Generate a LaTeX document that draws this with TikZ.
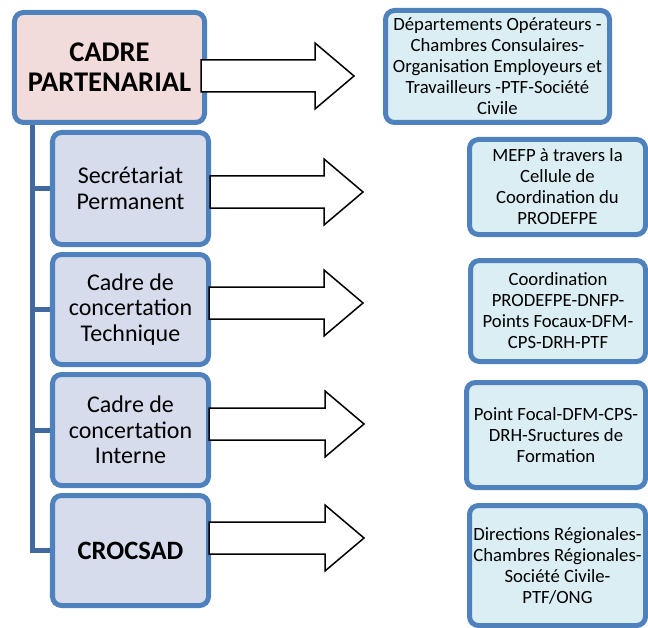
\documentclass[tikz,border=0pt]{standalone}
\usepackage{fontspec}
\setmainfont{Carlito}
\usetikzlibrary{backgrounds}
\definecolor{bordblue}{HTML}{4F81BD}
\definecolor{spineblue}{HTML}{41699E}
\definecolor{pinkfill}{HTML}{F2DCDB}
\definecolor{lavfill}{HTML}{D6DCEB}
\definecolor{cyanfill}{HTML}{DAEEF3}
\tikzset{
 box/.style={draw=bordblue, line width=5bp, rounded corners=9bp, align=center, inner sep=0pt},
 topbox/.style={box, fill=pinkfill, minimum width=190bp, minimum height=110bp, font=\fontsize{28.5bp}{30bp}\selectfont\bfseries},
 leftbox/.style={box, fill=lavfill, minimum width=156bp, font=\fontsize{24bp}{25.7bp}\selectfont},
 rightbox/.style={box, fill=cyanfill, font=\fontsize{18.7bp}{21bp}\selectfont},
 barrow/.style={draw=black, line width=1.5bp, fill=white, line join=miter},
 spine/.style={draw=spineblue, line width=5bp},
}
\newcommand\bkarrow[3]{\draw[barrow] (#1,#2-16) -- (#3-39,#2-16) -- (#3-39,#2-33) -- (#3,#2) -- (#3-39,#2+33) -- (#3-39,#2+16) -- (#1,#2+16) -- cycle;}
\begin{document}
\begin{tikzpicture}[x=1bp,y=-1bp]
\useasboundingbox (0,0) rectangle (648,628);
% left column
\node[topbox] (top) at (109.5,67.5) {CADRE\\PARTENARIAL};
\node[leftbox, minimum height=112bp] (sec) at (130.5,188.5) {Secrétariat\\Permanent};
\node[leftbox, minimum height=110bp] (tech) at (130.5,309.5) {Cadre de\\concertation\\Technique};
\node[leftbox, minimum height=111bp] (int) at (130.5,430) {Cadre de\\concertation\\Interne};
\node[leftbox, minimum height=110bp, font=\fontsize{26.5bp}{29bp}\selectfont\bfseries] (croc) at (130.5,550.5) {CROCSAD};
% right column
\node[rightbox, minimum width=224bp, minimum height=112bp] (r0) at (497.5,66.5) {Départements Opérateurs -\\Chambres Consulaires-\\Organisation Employeurs et\\Travailleurs -PTF-Société\\Civile};
\node[rightbox, minimum width=176bp, minimum height=95bp] (r1) at (557.5,187) {MEFP à travers la\\Cellule de\\Coordination du\\PRODEFPE};
\node[rightbox, minimum width=175bp, minimum height=101bp] (r2) at (558,311) {Coordination\\PRODEFPE-DNFP-\\Points Focaux-DFM-\\CPS-DRH-PTF};
\node[rightbox, minimum width=179bp, minimum height=105bp] (r3) at (556,435) {Point Focal-DFM-CPS-\\DRH-Sructures de\\Formation};
\node[rightbox, minimum width=176bp, minimum height=120bp] (r4) at (557.5,565.5) {Directions Régionales-\\Chambres Régionales-\\Société Civile-\\PTF/ONG};
% spine connectors
\begin{scope}[on background layer]
\coordinate (sp) at (32,122);
\draw[spine] (sp) |- (croc.west);
\draw[spine] (sp |- sec.west) -- (sec.west);
\draw[spine] (sp |- tech.west) -- (tech.west);
\draw[spine] (sp |- int.west) -- (int.west);
\end{scope}
% block arrows
\bkarrow{201}{76}{354}
\bkarrow{210}{192}{363}
\bkarrow{209}{303}{363}
\bkarrow{209}{424}{364}
\bkarrow{209}{538}{364}
\end{tikzpicture}
\end{document}
